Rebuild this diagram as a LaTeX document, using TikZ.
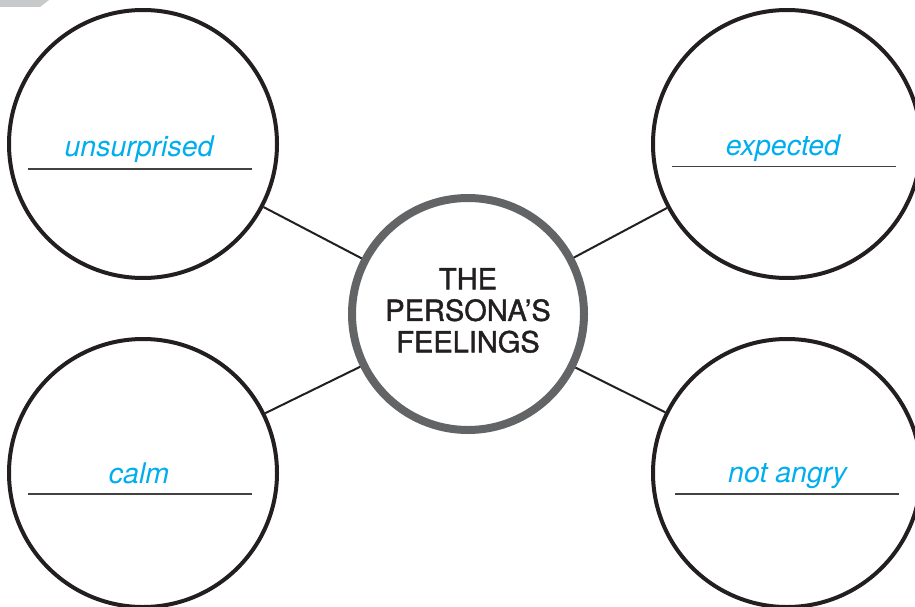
\documentclass[tikz,border=0pt]{standalone}
\usepackage{fontspec}
\newfontfamily\heros{TeX Gyre Heros}
\newfontfamily\herosmed[FakeBold=1.4]{TeX Gyre Heros}
\definecolor{cyanlbl}{HTML}{00AEEF}
\definecolor{inkdark}{HTML}{231F20}
\definecolor{ringgray}{HTML}{636466}
\definecolor{tabgray}{HTML}{C8C9CB}
\begin{document}
\begin{tikzpicture}[x=1pt,y=-1pt,
  bubble/.style={circle, draw=inkdark, line width=4pt, minimum size=268pt, inner sep=0pt, fill=white},
  hub/.style={circle, draw=ringgray, line width=8pt, minimum size=232pt, inner sep=0pt, fill=white},
  hubtext/.style={align=center, font=\herosmed\fontsize{29}{31.5}\selectfont, text=inkdark, inner sep=0pt},
  lbl/.style={anchor=base, font=\heros\itshape\fontsize{28.5}{30}\selectfont, text=cyanlbl, inner sep=0pt},
  conn/.style={draw=inkdark, line width=2pt},
  rule/.style={draw=inkdark!85, line width=1.5pt}]
\useasboundingbox (0,0) rectangle (915,607);
\fill[tabgray] (0,0) -- (49,0) -- (40,7) -- (0,7) -- cycle;
% nodes
\node[hub] (hub) at (468,314) {};
\node[hubtext] (ctext) at (468,310.5) {THE\\PERSONA’S\\FEELINGS};
\node[bubble] (tl) at (143,144) {};
\node[bubble] (tr) at (787,144) {};
\node[bubble] (bl) at (143,473) {};
\node[bubble] (br) at (787,473) {};
% connectors
\draw[conn] (hub) -- (tl);
\draw[conn] (hub) -- (tr);
\draw[conn] (hub) -- (bl);
\draw[conn] (hub) -- (br);
% labels and rules
\node[lbl] (l1) at (139,157) {unsurprised};
\draw[rule] (28,169) -- (252,169);
\node[lbl] (l2) at (783,155) {expected};
\draw[rule] (672,166.5) -- (896,166.5);
\node[lbl] (l3) at (139,483) {calm};
\draw[rule] (28,494) -- (252,494);
\node[lbl] (l4) at (787.5,482) {not angry};
\draw[rule] (675,494) -- (899,494);
\end{tikzpicture}
\end{document}
